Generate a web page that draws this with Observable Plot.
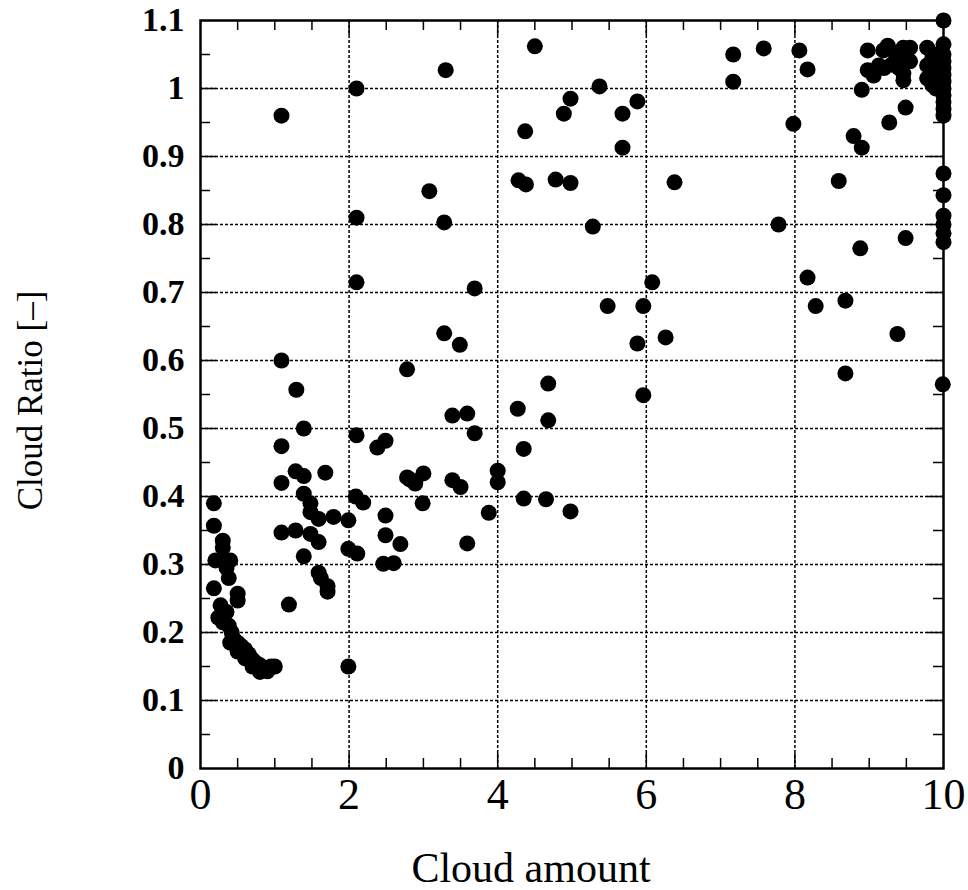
<!DOCTYPE html>
<html>
<head>
<meta charset="utf-8">
<script src="https://cdn.jsdelivr.net/npm/d3@7"></script>
<script src="https://cdn.jsdelivr.net/npm/@observablehq/plot@0.6"></script>
<style>
  html, body { margin: 0; padding: 0; background: #fff; }
  #chart svg { display: block; }
</style>
</head>
<body>
<div id="chart"></div>
<script>
// Cloud amount (x) and Cloud Ratio (y)
const cloudAmount = [
  0.18,0.18,0.3,0.3,0.2,0.3,0.4,0.35,0.38,0.18,0.5,0.5,0.27,0.35,0.24,0.3,0.38,0.42,0.45,0.4,0.5,0.55,0.5,0.6,0.65,0.6,0.7,0.75,0.8,0.85,0.9,0.8,1.0,0.7,0.95,
  1.09,1.09,1.29,1.39,1.09,1.28,1.39,1.68,1.09,1.39,1.48,1.48,1.59,1.79,1.09,1.28,1.48,1.59,1.39,1.59,1.62,1.71,1.71,1.19,
  1.99,1.99,2.11,1.99,2.1,2.1,2.1,2.1,2.09,2.19,2.38,2.49,2.49,2.49,2.46,2.6,2.69,2.78,2.78,2.89,3.0,2.99,2.82,
  3.08,3.28,3.3,3.28,3.49,3.69,3.39,3.59,3.69,3.39,3.5,3.59,3.88,4.0,4.0,
  4.27,4.35,4.35,4.65,4.68,4.68,4.98,4.5,4.37,4.28,4.38,4.78,4.98,4.89,4.98,
  5.37,5.88,5.68,5.68,6.38,5.28,6.08,5.48,5.96,5.88,6.26,5.96,
  7.17,7.17,7.58,8.06,8.17,7.98,7.78,8.17,8.28,8.68,8.68,8.59,8.79,8.9,8.9,8.88,
  9.38,9.49,9.27,9.49,9.99,
  8.98,8.98,9.06,9.13,9.19,9.25,9.35,9.3,9.46,9.46,9.46,9.46,9.55,9.55,9.4,9.2,
  9.78,9.78,9.78,9.85,9.85,9.85,9.9,9.9,9.95,
  10,10,10,10,10,10,10,10,10,10,10,10,10,10,10,10,10,10
];
const cloudRatio = [
  0.39,0.357,0.335,0.325,0.306,0.306,0.306,0.295,0.28,0.265,0.257,0.247,0.24,0.23,0.222,0.215,0.21,0.2,0.19,0.185,0.185,0.18,0.172,0.175,0.168,0.162,0.16,0.155,0.152,0.145,0.143,0.142,0.15,0.15,0.15,
  0.96,0.6,0.557,0.5,0.474,0.437,0.43,0.435,0.42,0.404,0.39,0.377,0.367,0.37,0.347,0.35,0.345,0.333,0.312,0.288,0.28,0.268,0.26,0.241,
  0.365,0.323,0.316,0.15,1.0,0.81,0.715,0.49,0.4,0.391,0.472,0.482,0.372,0.343,0.301,0.302,0.33,0.587,0.428,0.419,0.434,0.39,0.425,
  0.849,0.803,1.027,0.64,0.623,0.706,0.519,0.522,0.493,0.424,0.414,0.331,0.376,0.438,0.421,
  0.529,0.47,0.397,0.396,0.566,0.512,0.378,1.062,0.937,0.865,0.859,0.866,0.861,0.963,0.985,
  1.003,0.981,0.963,0.913,0.862,0.797,0.715,0.68,0.68,0.625,0.634,0.549,
  1.05,1.01,1.059,1.056,1.028,0.948,0.8,0.722,0.68,0.688,0.581,0.864,0.93,0.913,0.998,0.765,
  0.639,0.78,0.95,0.972,0.565,
  1.056,1.027,1.019,1.034,1.056,1.063,1.052,1.035,1.06,1.044,1.022,1.012,1.06,1.04,1.03,1.03,
  1.06,1.034,1.015,1.045,1.025,1.005,1.05,1.0,1.03,
  1.1,1.065,1.05,1.04,1.03,1.02,1.01,1.0,0.99,0.98,0.97,0.96,0.875,0.843,0.813,0.8,0.787,0.774
];
const xTickLabels = [0, 2, 4, 6, 8, 10];
const yTickValues = [0, 0.1, 0.2, 0.3, 0.4, 0.5, 0.6, 0.7, 0.8, 0.9, 1.0, 1.1];
const xGrid = [2, 4, 6, 8];
const yGrid = [0.1, 0.2, 0.3, 0.4, 0.5, 0.6, 0.7, 0.8, 0.9, 1.0];
const xMinor = [0.5, 1, 1.5, 2.5, 3, 3.5, 4.5, 5, 5.5, 6.5, 7, 7.5, 8.5, 9, 9.5];
const yMinor = [0.05, 0.15, 0.25, 0.35, 0.45, 0.55, 0.65, 0.75, 0.85, 0.95, 1.05];
const xLabel = "Cloud amount";
const yLabel = "Cloud Ratio [–]";

const points = cloudAmount.map((x, i) => ({x, y: cloudRatio[i]}));

const W = 968, H = 890;
const mL = 200, mR = 25, mT = 20, mB = 122;
const pW = W - mL - mR, pH = H - mT - mB;
const font = "'Liberation Serif', 'Times New Roman', serif";

const chart = Plot.plot({
  width: W, height: H,
  marginLeft: mL, marginRight: mR, marginTop: mT, marginBottom: mB,
  style: {fontFamily: font, background: "#fff", color: "#000"},
  x: {domain: [0, 10]},
  y: {domain: [0, 1.1]},
  marks: [
    Plot.gridX(xGrid, {stroke: "#000", strokeOpacity: 1, strokeWidth: 1.5, strokeDasharray: "3,2"}),
    Plot.gridY(yGrid, {stroke: "#000", strokeOpacity: 1, strokeWidth: 1.5, strokeDasharray: "3,2"}),
    // inward minor/major ticks
    Plot.ruleX(xMinor, {x: d => d, insetTop: pH - 10, strokeWidth: 1.5}),
    Plot.ruleX(xMinor, {x: d => d, insetBottom: pH - 10, strokeWidth: 1.5}),
    Plot.ruleX(xGrid, {x: d => d, insetTop: pH - 15, strokeWidth: 1.5}),
    Plot.ruleX(xGrid, {x: d => d, insetBottom: pH - 15, strokeWidth: 1.5}),
    Plot.ruleY(yMinor, {y: d => d, insetRight: pW - 10, strokeWidth: 1.5}),
    Plot.ruleY(yMinor, {y: d => d, insetLeft: pW - 10, strokeWidth: 1.5}),
    Plot.ruleY(yGrid, {y: d => d, insetRight: pW - 16, strokeWidth: 1.5}),
    Plot.ruleY(yGrid, {y: d => d, insetLeft: pW - 16, strokeWidth: 1.5}),
    Plot.frame({stroke: "#000", strokeWidth: 2.5}),
    Plot.axisX(xTickLabels, {tickSize: 0, tickPadding: 9, fontSize: 44, tickFormat: d => String(d), label: null}),
    Plot.axisY(yTickValues, {tickSize: 0, tickPadding: 16, fontSize: 34, fontWeight: "bold", tickFormat: d => String(+d.toFixed(1)), label: null}),
    Plot.dot(points, {x: "x", y: "y", r: 8, fill: "#000", stroke: "none"}),
    Plot.text([yLabel], {frameAnchor: "left", textAnchor: "middle", lineAnchor: "middle", dx: -170, dy: 6, rotate: -90, fontSize: 35, text: d => d}),
    Plot.text([xLabel], {frameAnchor: "bottom", textAnchor: "middle", lineAnchor: "bottom", dx: -41, dy: 113, fontSize: 42, text: d => d})
  ]
});
document.getElementById("chart").appendChild(chart);
</script>
</body>
</html>
